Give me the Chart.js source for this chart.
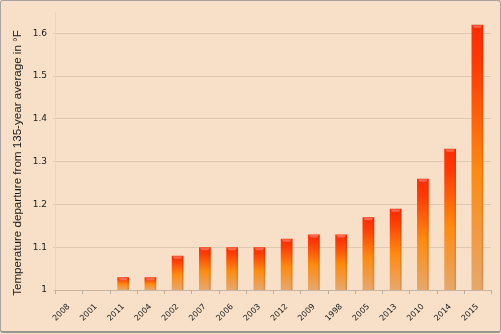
<!DOCTYPE html>
<html>
<head>
<meta charset="utf-8">
<script src="https://cdn.jsdelivr.net/npm/chart.js@4"></script>
<style>
  html, body { margin: 0; padding: 0; background: #f8e0c8; }
  #wrap { position: relative; width: 501px; height: 334px; }
  #frame {
    position: absolute; left: 0; top: 0; width: 501px; height: 333px;
    box-sizing: border-box; border: 1px solid #a8a39e; border-bottom: 2px solid #9a9590;
    border-radius: 3px; pointer-events: none;
  }
</style>
</head>
<body>
<div id="wrap">
  <canvas id="chart" width="501" height="334"></canvas>
  <div id="frame"></div>
</div>
<script>
// Years ranked from coolest to warmest, with departure from the long-term average (°F)
const years = ['2008', '2001', '2011', '2004', '2002', '2007', '2006', '2003',
               '2012', '2009', '1998', '2005', '2013', '2010', '2014', '2015'];
const departures = [1.00, 1.00, 1.03, 1.03, 1.08, 1.10, 1.10, 1.10,
                    1.12, 1.13, 1.13, 1.17, 1.19, 1.26, 1.33, 1.62];
const yTicks = [1, 1.1, 1.2, 1.3, 1.4, 1.5, 1.6];
const yTitle = 'Temperature departure from 135-year average in °F';

// Each bar gets its own vertical red → orange → tan gradient
function barGradient(ctx) {
  const chart = ctx.chart;
  const y = chart.scales.y;
  if (!y || ctx.raw === undefined) return '#ff7a10';
  const top = y.getPixelForValue(ctx.raw);
  const base = y.getPixelForValue(y.min);
  if (!isFinite(top) || !isFinite(base) || base - top < 1) return '#d89860';
  const g = chart.ctx.createLinearGradient(0, top, 0, base);
  g.addColorStop(0, '#ff2c00');
  g.addColorStop(0.15, '#ff3a04');
  g.addColorStop(0.55, '#ff8a10');
  g.addColorStop(1, '#e6a86c');
  return g;
}

// Glossy cap and a soft shaded right edge on every bar (kept inside the plot area)
const barShine = {
  id: 'barShine',
  afterDatasetsDraw(chart) {
    const c = chart.ctx;
    const bottom = chart.chartArea.bottom;
    chart.getDatasetMeta(0).data.forEach(bar => {
      const w = bar.width, h = bottom - bar.y;
      if (h < 3) return;
      const x0 = bar.x - w / 2;
      c.save();
      c.fillStyle = 'rgba(120,40,0,0.16)';
      c.fillRect(x0 + w - 1.5, bar.y, 1.5, h);
      c.fillStyle = 'rgba(255,150,140,0.55)';
      c.beginPath();
      c.moveTo(x0 + 1, bar.y + 0.5);
      c.lineTo(x0 + w - 1, bar.y + 0.5);
      c.lineTo(x0 + w - 2.5, bar.y + 3);
      c.lineTo(x0 + 2.5, bar.y + 3);
      c.closePath();
      c.fill();
      c.restore();
    });
  }
};

// Short tick marks between categories under the x axis, plus the rotated axis title
const axisDecor = {
  id: 'axisDecor',
  afterDraw(chart) {
    const c = chart.ctx;
    const x = chart.scales.x;
    const base = chart.chartArea.bottom;
    const step = x.getPixelForTick(1) - x.getPixelForTick(0);
    c.save();
    c.strokeStyle = '#bcae9f';
    c.lineWidth = 1;
    c.beginPath();
    for (let i = 0; i <= years.length; i++) {
      const px = Math.round(x.getPixelForTick(0) - step / 2 + i * step) + 0.5;
      c.moveTo(px, base);
      c.lineTo(px, base + 4);
    }
    c.stroke();

    c.translate(18, 163);
    c.rotate(-Math.PI / 2);
    c.fillStyle = '#1a1a1a';
    c.font = '11.6px "Liberation Sans"';
    c.textAlign = 'center';
    c.textBaseline = 'middle';
    c.fillText(yTitle, 0, 0);
    c.restore();
  }
};

new Chart(document.getElementById('chart'), {
  type: 'bar',
  data: {
    labels: years,
    datasets: [{
      data: departures,
      backgroundColor: barGradient,
      borderWidth: 0,
      minBarLength: 1,
      barPercentage: 0.43,
      categoryPercentage: 1
    }]
  },
  plugins: [barShine, axisDecor],
  options: {
    responsive: false,
    animation: false,
    devicePixelRatio: 1,
    layout: { padding: { top: 12, right: 10, left: 0, bottom: 0 } },
    plugins: { legend: { display: false }, tooltip: { enabled: false } },
    scales: {
      x: {
        grid: { display: false },
        border: { display: true, color: '#c9b6a2', width: 1 },
        ticks: {
          autoSkip: false, minRotation: 45, maxRotation: 45,
          color: '#1a1a1a', padding: 4,
          font: { family: 'DejaVu Sans', size: 8 }
        },
        afterFit(scale) { scale.height = 44; }
      },
      y: {
        min: 1,
        max: 1.65,
        afterBuildTicks(scale) {
          scale.ticks = yTicks.map(v => ({ value: v }));
        },
        grid: { color: '#e0c9b2', lineWidth: 1, tickLength: 2 },
        border: { display: true, color: '#ead4be', width: 1 },
        ticks: {
          color: '#1a1a1a', padding: 6,
          font: { family: 'DejaVu Sans', size: 9 },
          callback: v => String(Number(v.toFixed(2)))
        },
        afterFit(scale) { scale.width = 55; }
      }
    }
  }
});
</script>
</body>
</html>
